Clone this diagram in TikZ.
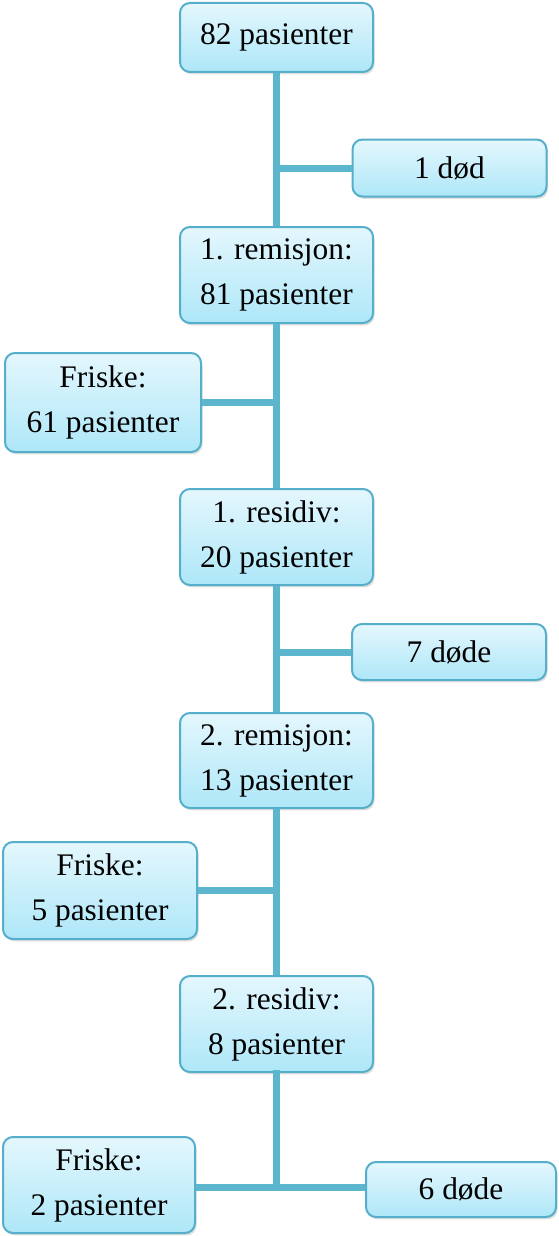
\documentclass[tikz,border=0pt]{standalone}
\usepackage{fontspec}
\setmainfont{Liberation Serif}
\usetikzlibrary{shadows}
\definecolor{boxborder}{HTML}{55AECA}
\definecolor{boxtop}{HTML}{E4F7FD}
\definecolor{boxbot}{HTML}{AEE7F8}
\definecolor{linkcol}{HTML}{5BB6CE}
\tikzset{
  flowbox/.style={draw=boxborder, line width=1pt, rounded corners=5pt,
    top color=boxtop, bottom color=boxbot, align=center, inner sep=0pt,
    font=\fontsize{15.7}{22.5}\selectfont, text=black,
    drop shadow={opacity=0.25, shadow xshift=0.8pt, shadow yshift=-1.2pt}},
  link/.style={draw=linkcol, line width=3.5pt}
}
\begin{document}
\begin{tikzpicture}[x=0.5pt, y=-0.5pt]
\useasboundingbox (0,0) rectangle (558,1236);
\coordinate (j5) at (276.5,1187);
\node[flowbox, minimum width=96.5pt, minimum height=34.5pt] (b1) at (276.5,37.5) {\raisebox{-1pt}{82 pasienter}};
\node[flowbox, minimum width=97pt, minimum height=28.5pt] (d1) at (449.5,168) {1 død};
\node[flowbox, minimum width=96.5pt, minimum height=48pt] (r1) at (276.5,275) {1. remisjon:\\81 pasienter};
\node[flowbox, minimum width=98pt, minimum height=49.5pt] (f1) at (103,402.5) {Friske:\\61 pasienter};
\node[flowbox, minimum width=96.5pt, minimum height=48pt] (s1) at (276.5,537) {1. residiv:\\20 pasienter};
\node[flowbox, minimum width=97pt, minimum height=28pt] (d7) at (449,652) {7 døde};
\node[flowbox, minimum width=96.5pt, minimum height=47.5pt] (r2) at (276.5,760.5) {2. remisjon:\\13 pasienter};
\node[flowbox, minimum width=97pt, minimum height=48.5pt] (f5) at (100,890.5) {Friske:\\5 pasienter};
\node[flowbox, minimum width=96.5pt, minimum height=48pt] (s2) at (276.5,1024) {2. residiv:\\8 pasienter};
\node[flowbox, minimum width=96pt, minimum height=48pt] (f2) at (99,1185) {Friske:\\2 pasienter};
\node[flowbox, minimum width=95pt, minimum height=27.5pt] (d6) at (461,1189.5) {6 døde};
\draw[link] (b1.south) -- (r1.north);
\draw[link] (r1.south) -- (s1.north);
\draw[link] (s1.south) -- (r2.north);
\draw[link] (r2.south) -- (s2.north);
\draw[link, line cap=rect] (s2.south) -- (j5);
\draw[link] (d1.west) -- (d1.west -| b1.south);
\draw[link] (f1.east) -- (f1.east -| r1.south);
\draw[link] (d7.west) -- (d7.west -| s1.south);
\draw[link] (f5.east) -- (f5.east -| r2.south);
\draw[link] (f2.east |- j5) -- (j5) -- (d6.west |- j5);
\end{tikzpicture}
\end{document}
